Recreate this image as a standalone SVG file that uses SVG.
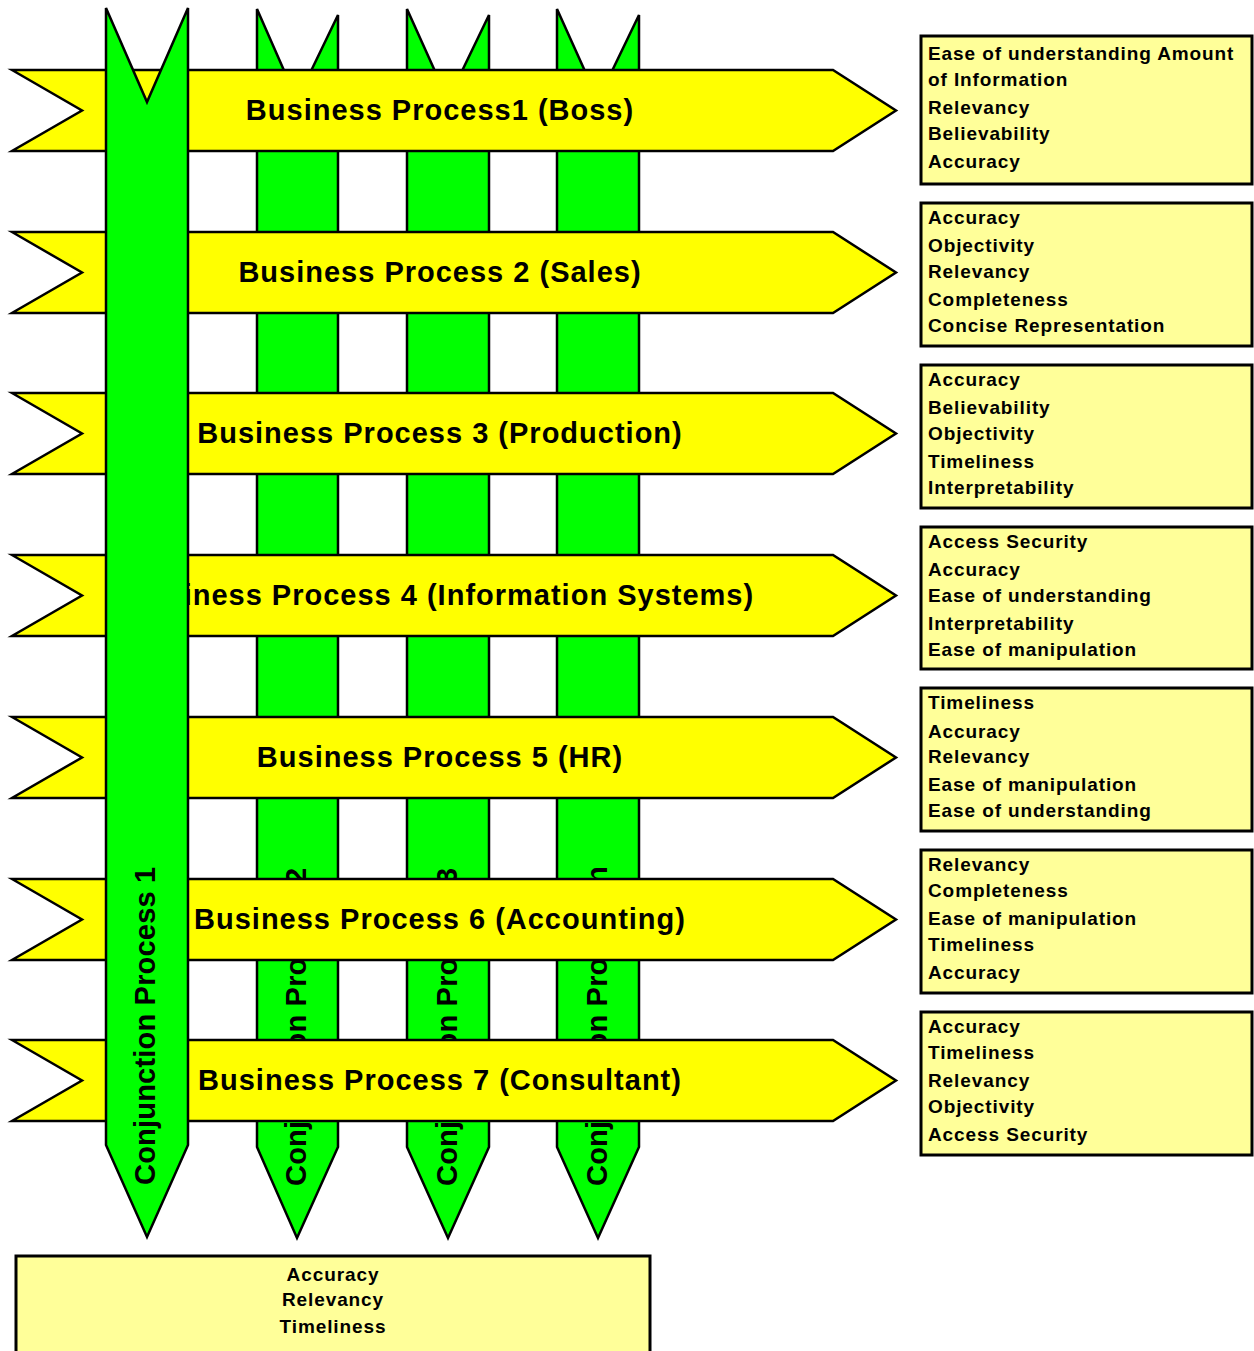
<svg xmlns="http://www.w3.org/2000/svg" width="1254" height="1351" viewBox="0 0 1254 1351">
<style>
.bg{fill:#ffffff}
.green{fill:#00ff00;stroke:#000;stroke-width:2.5;stroke-linejoin:miter}
.yel{fill:#ffff00;stroke:#000;stroke-width:2.5;stroke-linejoin:miter}
.box{fill:#ffff99;stroke:#000;stroke-width:3}
.bp{font-family:"Liberation Sans",Arial,sans-serif;font-weight:bold;font-size:29px;letter-spacing:1px;fill:#000;text-anchor:middle}
.cp{font-family:"Liberation Sans",Arial,sans-serif;font-weight:bold;font-size:29px;letter-spacing:0.2px;fill:#000}
.q{font-family:"Liberation Sans",Arial,sans-serif;font-weight:bold;font-size:19px;letter-spacing:0.9px;fill:#000}
.qc{font-family:"Liberation Sans",Arial,sans-serif;font-weight:bold;font-size:19px;letter-spacing:0.9px;fill:#000;text-anchor:middle}
</style>
<rect class="bg" x="0" y="0" width="1254" height="1351"/>

<!-- Conjunction processes 2..n (behind business processes) -->
<g id="conj2">
<polygon class="green" points="257,9 297,100 338,15 338,1147 297,1238 257,1147"/>
<text class="cp" transform="translate(306,1186) rotate(-90)">Conjunction Process 2</text>
</g>
<g id="conj3">
<polygon class="green" points="407,9 448,100 489,15 489,1147 448,1238 407,1147"/>
<text class="cp" transform="translate(457,1186) rotate(-90)">Conjunction Process 3</text>
</g>
<g id="conjn">
<polygon class="green" points="557,9 598,100 639,15 639,1147 598,1238 557,1147"/>
<text class="cp" transform="translate(607,1186) rotate(-90)">Conjunction Process n</text>
</g>

<!-- Business processes -->
<g id="bp1">
<polygon class="yel" points="12,70 82,110.5 12,151 833,151 896,110.5 833,70"/>
<text class="bp" x="440" y="120">Business Process1 (Boss)</text>
</g>
<g id="bp2">
<polygon class="yel" points="12,232 82,272.5 12,313 833,313 896,272.5 833,232"/>
<text class="bp" x="440" y="282">Business Process 2 (Sales)</text>
</g>
<g id="bp3">
<polygon class="yel" points="12,393 82,433.5 12,474 833,474 896,433.5 833,393"/>
<text class="bp" x="440" y="443">Business Process 3 (Production)</text>
</g>
<g id="bp4">
<polygon class="yel" points="12,555 82,595.5 12,636 833,636 896,595.5 833,555"/>
<text class="bp" x="440" y="605">Business Process 4 (Information Systems)</text>
</g>
<g id="bp5">
<polygon class="yel" points="12,717 82,757.5 12,798 833,798 896,757.5 833,717"/>
<text class="bp" x="440" y="767">Business Process 5 (HR)</text>
</g>
<g id="bp6">
<polygon class="yel" points="12,879 82,919.5 12,960 833,960 896,919.5 833,879"/>
<text class="bp" x="440" y="929">Business Process 6 (Accounting)</text>
</g>
<g id="bp7">
<polygon class="yel" points="12,1040 82,1080.5 12,1121 833,1121 896,1080.5 833,1040"/>
<text class="bp" x="440" y="1090">Business Process 7 (Consultant)</text>
</g>

<!-- Conjunction process 1 (on top) -->
<g id="conj1">
<polygon class="green" points="106,8 147,102 188,8 188,1145 147,1237 106,1145"/>
<text class="cp" transform="translate(155,1185) rotate(-90)">Conjunction Process 1</text>
</g>

<!-- Quality boxes -->
<g id="q1">
<rect class="box" x="921" y="36" width="331" height="148"/>
<text class="q" x="928" y="60">Ease of understanding Amount</text>
<text class="q" x="928" y="86">of Information</text>
<text class="q" x="928" y="114">Relevancy</text>
<text class="q" x="928" y="140">Believability</text>
<text class="q" x="928" y="168">Accuracy</text>
</g>
<g id="q2">
<rect class="box" x="921" y="203" width="331" height="143"/>
<text class="q" x="928" y="224">Accuracy</text>
<text class="q" x="928" y="252">Objectivity</text>
<text class="q" x="928" y="278">Relevancy</text>
<text class="q" x="928" y="306">Completeness</text>
<text class="q" x="928" y="332">Concise Representation</text>
</g>
<g id="q3">
<rect class="box" x="921" y="365" width="331" height="143"/>
<text class="q" x="928" y="386">Accuracy</text>
<text class="q" x="928" y="414">Believability</text>
<text class="q" x="928" y="440">Objectivity</text>
<text class="q" x="928" y="468">Timeliness</text>
<text class="q" x="928" y="494">Interpretability</text>
</g>
<g id="q4">
<rect class="box" x="921" y="527" width="331" height="142"/>
<text class="q" x="928" y="548">Access Security</text>
<text class="q" x="928" y="576">Accuracy</text>
<text class="q" x="928" y="602">Ease of understanding</text>
<text class="q" x="928" y="630">Interpretability</text>
<text class="q" x="928" y="656">Ease of manipulation</text>
</g>
<g id="q5">
<rect class="box" x="921" y="688" width="331" height="143"/>
<text class="q" x="928" y="709">Timeliness</text>
<text class="q" x="928" y="738">Accuracy</text>
<text class="q" x="928" y="763">Relevancy</text>
<text class="q" x="928" y="791">Ease of manipulation</text>
<text class="q" x="928" y="817">Ease of understanding</text>
</g>
<g id="q6">
<rect class="box" x="921" y="850" width="331" height="143"/>
<text class="q" x="928" y="871">Relevancy</text>
<text class="q" x="928" y="897">Completeness</text>
<text class="q" x="928" y="925">Ease of manipulation</text>
<text class="q" x="928" y="951">Timeliness</text>
<text class="q" x="928" y="979">Accuracy</text>
</g>
<g id="q7">
<rect class="box" x="921" y="1012" width="331" height="143"/>
<text class="q" x="928" y="1033">Accuracy</text>
<text class="q" x="928" y="1059">Timeliness</text>
<text class="q" x="928" y="1087">Relevancy</text>
<text class="q" x="928" y="1113">Objectivity</text>
<text class="q" x="928" y="1141">Access Security</text>
</g>
<g id="qbottom">
<rect class="box" x="16" y="1256" width="634" height="100"/>
<text class="qc" x="333" y="1281">Accuracy</text>
<text class="qc" x="333" y="1306">Relevancy</text>
<text class="qc" x="333" y="1333">Timeliness</text>
</g>
</svg>
